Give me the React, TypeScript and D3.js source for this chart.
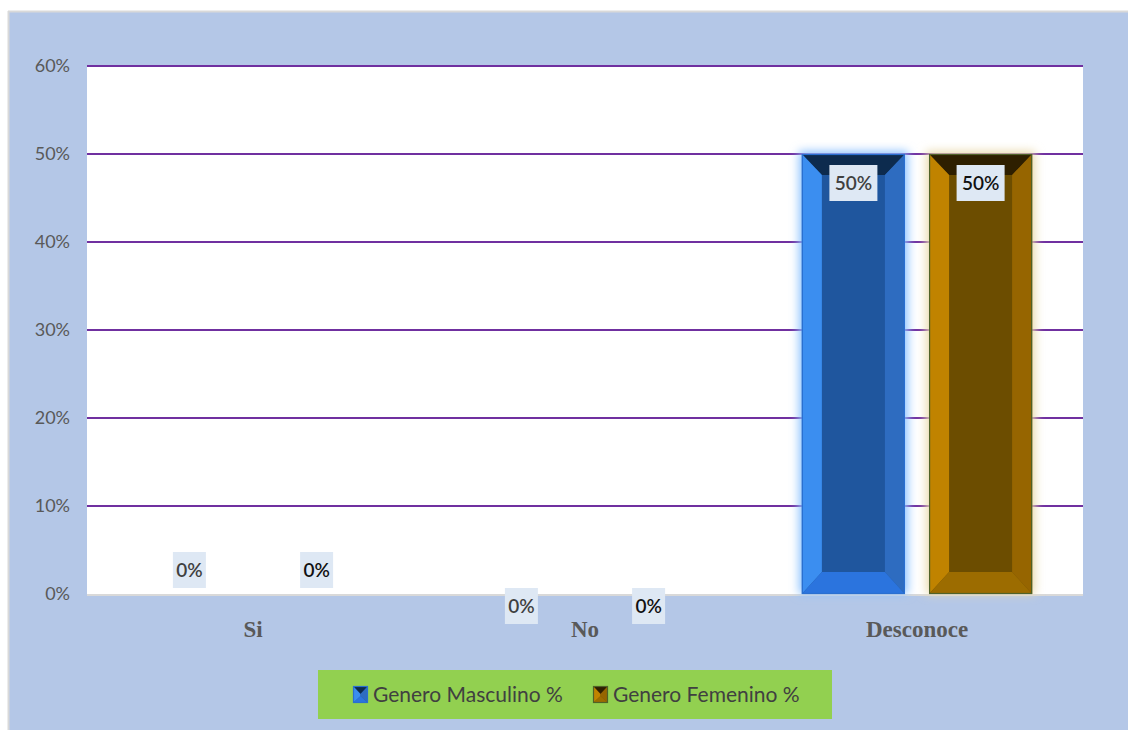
import React from "react";
import * as d3 from "d3";

const categories = ["Si", "No", "Desconoce"];
const seriesNames = ["Genero Masculino %", "Genero Femenino %"];
const masculino = [0, 0, 0.5];
const femenino = [0, 0, 0.5];
const yTicks = [0, 0.1, 0.2, 0.3, 0.4, 0.5, 0.6];
// vertical nudge of the zero-value labels (in the reference Si labels sit above the axis, No labels below)
const zeroLabelNudge = [-24, 12, 0];

const W = 1128;
const H = 730;
const margin = { left: 87, right: 45, top: 66, bottom: 136 };

const palettes = [
  { face: "#1F569E", top: "#0D2B4E", left: "#3B8EF0", right: "#2E6CC0", bottom: "#2B74DE", stroke: "#2A6FD0", glow: "#8EC3FF", text: "#404040" },
  { face: "#6C4D00", top: "#2E1F00", left: "#C08300", right: "#966500", bottom: "#9C6C00", stroke: "#4F6228", glow: "#EADBB0", text: "#111111" },
];

function Bevel({ x, y, w, h, p, bt = 21, bs = 20, bb = 22 }: any) {
  const t = Math.min(bt, h / 2);
  const b = Math.min(bb, h / 2);
  const s = Math.min(bs, w / 2);
  const x0 = x, x1 = x + w, y0 = y, y1 = y + h;
  return (
    <g>
      <rect x={x0} y={y0} width={w} height={h} fill={p.face} />
      <polygon points={`${x0},${y0} ${x1},${y0} ${x1 - s},${y0 + t} ${x0 + s},${y0 + t}`} fill={p.top} />
      <polygon points={`${x0},${y0} ${x0 + s},${y0 + t} ${x0 + s},${y1 - b} ${x0},${y1}`} fill={p.left} />
      <polygon points={`${x1},${y0} ${x1},${y1} ${x1 - s},${y1 - b} ${x1 - s},${y0 + t}`} fill={p.right} />
      <polygon points={`${x0},${y1} ${x0 + s},${y1 - b} ${x1 - s},${y1 - b} ${x1},${y1}`} fill={p.bottom} />
      <rect x={x0 + 0.5} y={y0 + 0.5} width={w - 1} height={h - 1} fill="none" stroke={p.stroke} strokeWidth={1.2} />
    </g>
  );
}

export default function App() {
  const x = d3.scaleBand().domain(categories).range([margin.left, W - margin.right]);
  const x1 = d3.scaleBand().domain(seriesNames).range([0, x.bandwidth()]).paddingInner(0.19).paddingOuter(0.4);
  const y = d3.scaleLinear().domain([0, 0.6]).range([H - margin.bottom, margin.top]);
  const series = [masculino, femenino];
  const plotL = margin.left, plotR = W - margin.right;

  return (
    <svg width={W} height={H} style={{ position: "absolute", left: 0, top: 0 }} fontFamily="Lato, 'Open Sans', sans-serif">
      <defs>
        <filter id="glow" x="-30%" y="-30%" width="160%" height="160%">
          <feGaussianBlur stdDeviation="5" />
        </filter>
      </defs>
      <rect x={0} y={0} width={W} height={H} fill="#ffffff" />
      <rect x={8} y={11} width={W - 8} height={H - 11} fill="#B4C7E7" />
      <line x1={8} x2={W} y1={11.5} y2={11.5} stroke="#D9D9D9" strokeWidth={2} />
      <line x1={8.5} x2={8.5} y1={11} y2={H} stroke="#D9D9D9" strokeWidth={2} />
      <rect x={plotL} y={margin.top} width={plotR - plotL} height={y(0) - margin.top} fill="#ffffff" />
      {yTicks.map((t) => (
        <g key={t}>
          {t > 0 && <line x1={plotL} x2={plotR} y1={y(t)} y2={y(t)} stroke="#7030A0" strokeWidth={2} />}
          <text x={70} y={y(t)} dy="0.35em" textAnchor="end" fontSize={18} fill="#595959">
            {d3.format(".0%")(t)}
          </text>
        </g>
      ))}
      <line x1={plotL} x2={plotR} y1={y(0) + 1} y2={y(0) + 1} stroke="#D9D9D9" strokeWidth={2} />
      {categories.map((c, i) =>
        series.map((s, j) => {
          const v = s[i];
          const bx = (x(c) as number) + (x1(seriesNames[j]) as number);
          const bw = x1.bandwidth();
          const by = y(v);
          const bh = y(0) - y(v);
          const p = palettes[j];
          return (
            <g key={c + j}>
              {bh > 0 && (
                <>
                  <rect x={bx - 3} y={by - 3} width={bw + 6} height={bh + 3} fill={p.glow} filter="url(#glow)" />
                  <Bevel x={bx} y={by} w={bw} h={bh} p={p} />
                </>
              )}
            </g>
          );
        })
      )}
      {categories.map((c, i) =>
        series.map((s, j) => {
          const v = s[i];
          const bx = (x(c) as number) + (x1(seriesNames[j]) as number);
          const cx = bx + x1.bandwidth() / 2;
          const label = d3.format(".0%")(v);
          const bwLab = label.length > 2 ? 48 : 33;
          const cy = v > 0 ? y(v) + 29 : y(0) + zeroLabelNudge[i];
          return (
            <g key={"l" + c + j}>
              <rect x={cx - bwLab / 2} y={cy - 18} width={bwLab} height={36} fill="#DEE8F4" />
              <text x={cx} y={cy} dy="0.35em" textAnchor="middle" fontSize={19} fontWeight={600} fill={palettes[j].text}>
                {label}
              </text>
            </g>
          );
        })
      )}
      {categories.map((c) => (
        <text key={c} x={(x(c) as number) + x.bandwidth() / 2} y={637} textAnchor="middle" fontFamily="'Liberation Serif', 'DejaVu Serif', serif" fontWeight="bold" fontSize={23} fill="#595959">
          {c}
        </text>
      ))}
      <rect x={318} y={670} width={514} height={49} fill="#92D050" />
      {seriesNames.map((n, j) => {
        const lx = j === 0 ? 353 : 593;
        const p = palettes[j];
        return (
          <g key={n}>
            <Bevel x={lx} y={686} w={15} h={17} p={p} bt={8} bs={7.5} bb={7} />
            <text x={lx + 20} y={694.5} dy="0.35em" fontSize={21} fill="#404040">
              {n}
            </text>
          </g>
        );
      })}
    </svg>
  );
}
